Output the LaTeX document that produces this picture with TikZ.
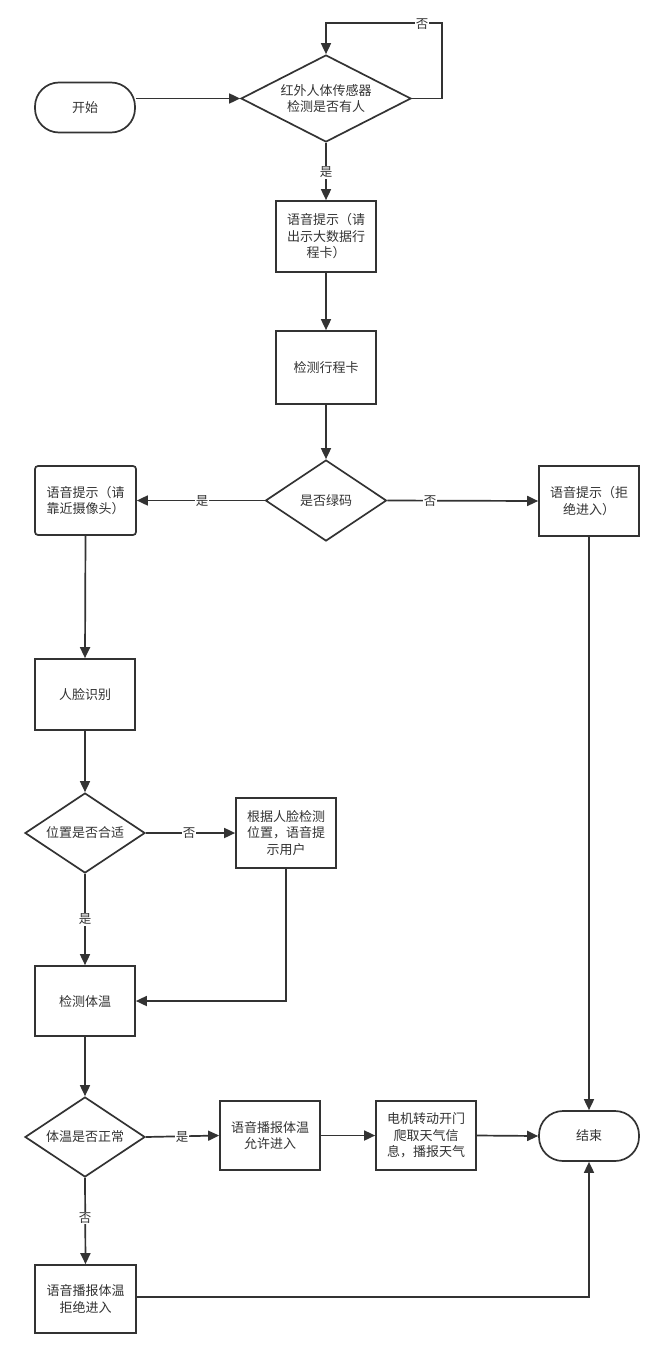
\documentclass[tikz,border=0pt]{standalone}
\usepackage{fontspec}
\setmainfont{Noto Sans CJK SC}
\usetikzlibrary{shapes.geometric,arrows.meta,calc}
\definecolor{ink}{HTML}{333333}
\begin{document}
\begin{tikzpicture}[x=1pt,y=-1pt,
  font=\fontsize{13}{16.5}\selectfont, text=ink,
  base/.style={draw=ink,line width=1.7pt,inner sep=0pt,align=center},
  box/.style={base,rectangle,minimum width=100pt,minimum height=70pt},
  term/.style={base,rectangle,rounded corners=24pt,minimum width=100pt,minimum height=50pt},
  dia/.style={base,diamond,aspect=2},
  arr/.style={draw=ink,line width=1.7pt,-{Triangle[length=11pt,width=10pt]}},
  lbl/.style={fill=white,inner sep=1pt,font=\fontsize{12.5}{14}\selectfont}]
\useasboundingbox[fill=white] (0,0) rectangle (663,1357);

\node[term] (start) at (85,107.5) {开始};
\node[dia,minimum width=170pt,minimum height=87pt] (d1) at (326,98.5) {红外人体传感器\\检测是否有人};
\node[box,minimum height=71pt] (b2) at (326,236.5) {语音提示（请\\出示大数据行\\程卡）};
\node[box,minimum height=73pt] (b3) at (326,367.5) {检测行程卡};
\node[dia,aspect=1.5,minimum width=121pt,minimum height=81pt] (d2) at (326,500.5) {是否绿码};
\node[box,rounded corners=3pt,minimum width=101pt,minimum height=69pt] (lb) at (85.5,500.5) {语音提示（请\\靠近摄像头）};
\node[box,minimum height=70pt] (rb) at (589,501) {语音提示（拒\\绝进入）};
\node[box,minimum height=71pt] (face) at (85,694.5) {人脸识别};
\node[dia,aspect=1.5,minimum width=120pt,minimum height=80pt] (d3) at (85,833) {位置是否合适};
\node[box,minimum height=70pt] (adj) at (286,833) {根据人脸检测\\位置，语音提\\示用户};
\node[box,minimum height=70pt] (temp) at (85,1001) {检测体温};
\node[dia,aspect=1.5,minimum width=120pt,minimum height=80pt] (d4) at (85,1137) {体温是否正常};
\node[box,minimum height=69pt] (allow) at (270,1135.5) {语音播报体温\\允许进入};
\node[box,minimum height=69pt] (motor) at (426,1135.5) {电机转动开门\\爬取天气信\\息，播报天气};
\node[term] (end) at (589,1136) {结束};
\node[box,minimum width=101pt,minimum height=68pt] (rej) at (85.5,1299) {语音播报体温\\拒绝进入};

\draw[arr] (start.east |- d1.west) -- (d1.west);
\draw[arr] (d1.east) -- ++(30,0) |- ($(d1.north)+(0,-31)$) -- (d1.north);
\draw[arr] (d1.south) -- (b2.north);
\draw[arr] (b2.south) -- (b3.north);
\draw[arr] (b3.south) -- (d2.north);
\draw[arr] (d2.west) -- (lb.east);
\draw[arr] (d2.east) -- (rb.west);
\draw[arr] (lb.south) -- (face.north);
\draw[arr] (face.south) -- (d3.north);
\draw[arr] (d3.east) -- (adj.west);
\draw[arr] (d3.south) -- (temp.north);
\draw[arr] (adj.south) |- (temp.east);
\draw[arr] (temp.south) -- (d4.north);
\draw[arr] (d4.east) -- (allow.west);
\draw[arr] (allow.east) -- (motor.west);
\draw[arr] (motor.east) -- (end.west);
\draw[arr] (rb.south) -- (end.north);
\draw[arr] (d4.south) -- (rej.north);
\draw[arr] (rej.east |- 0,1297) -| (end.south);

\node[lbl] (l1) at (422,24) {否};
\node[lbl] (l2) at (326,172) {是};
\node[lbl] (l3) at (202,501) {是};
\node[lbl] (l4) at (430,501) {否};
\node[lbl] (l5) at (189,833) {否};
\node[lbl] (l6) at (85,919) {是};
\node[lbl] (l7) at (182,1137) {是};
\node[lbl] (l8) at (85,1218) {否};
\end{tikzpicture}
\end{document}
